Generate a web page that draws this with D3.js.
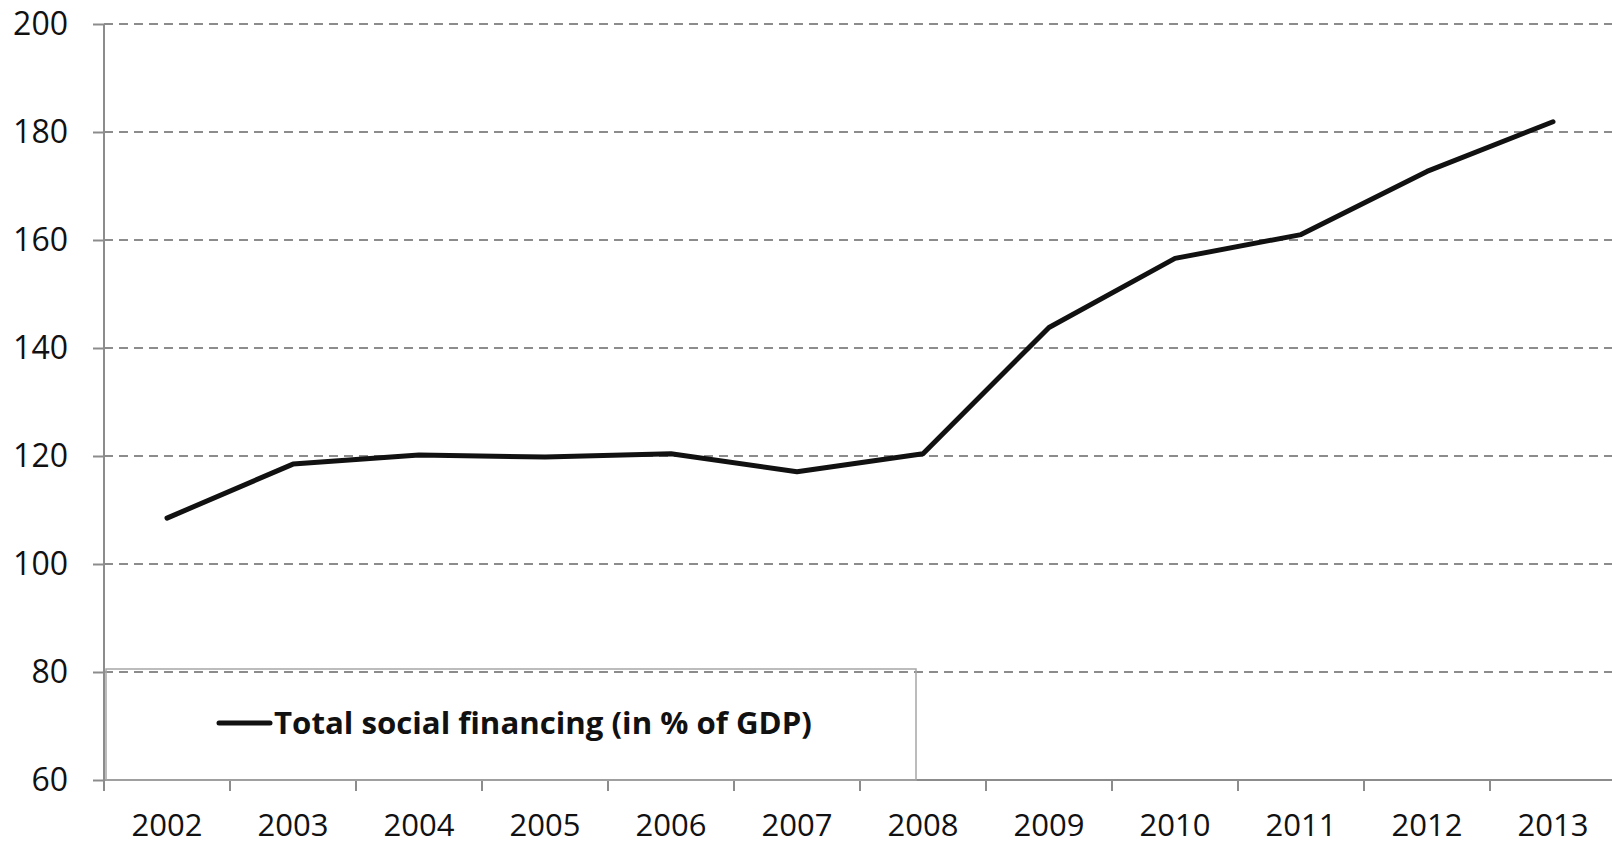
<!DOCTYPE html>
<html>
<head>
<meta charset="utf-8">
<script src="https://cdn.jsdelivr.net/npm/d3@7"></script>
<style>
  html, body { margin: 0; padding: 0; background: #fff; }
  svg { display: block; }
  text { font-family: "Open Sans", "Liberation Sans", sans-serif; fill: #111; }
</style>
</head>
<body>
<svg id="chart" width="1612" height="846"></svg>
<script>
// Total social financing, % of GDP
const years = ["2002", "2003", "2004", "2005", "2006", "2007", "2008", "2009", "2010", "2011", "2012", "2013"];
const financing = [108.5, 118.5, 120.2, 119.8, 120.4, 117.1, 120.4, 143.8, 156.6, 161.0, 172.7, 181.9];
const yTicks = [60, 80, 100, 120, 140, 160, 180, 200];
const legendLabel = "Total social financing (in % of GDP)";

const svg = d3.select("#chart");
const W = 1612;
const plot = { left: 104, right: 1616, top: 24, bottom: 780 };
const axisColor = "#8c8c8c";
const fontStack = '"Open Sans", "Liberation Sans", sans-serif';

const x = d3.scaleBand().domain(years).range([plot.left, plot.right]).padding(0);
const y = d3.scaleLinear().domain([60, 200]).range([plot.bottom, plot.top]);

// dashed horizontal gridlines
svg.append("g")
  .selectAll("line")
  .data(yTicks.filter(v => v > 60))
  .join("line")
  .attr("x1", plot.left)
  .attr("x2", W)
  .attr("y1", d => y(d))
  .attr("y2", d => y(d))
  .attr("stroke", axisColor)
  .attr("stroke-width", 2)
  .attr("stroke-dasharray", "9,6");

// y axis
const yAxis = svg.append("g")
  .attr("transform", `translate(${plot.left},0)`)
  .call(d3.axisLeft(y).tickValues(yTicks).tickSize(11).tickPadding(25).tickFormat(d3.format("d")));
yAxis.select(".domain").attr("stroke", axisColor).attr("stroke-width", 2)
  .attr("d", `M0,${plot.bottom}V${plot.top}`);
yAxis.selectAll(".tick line").attr("stroke", axisColor).attr("stroke-width", 2);
yAxis.selectAll(".tick text")
  .attr("font-size", 32)
  .attr("fill", "#111")
  .style("font-family", fontStack);

// x axis: labels centred in each band, ticks on band boundaries
const xAxis = svg.append("g")
  .attr("transform", `translate(0,${plot.bottom})`)
  .call(d3.axisBottom(x).tickSize(0).tickPadding(0));
xAxis.select(".domain").remove();
xAxis.selectAll(".tick text")
  .attr("y", 56)
  .attr("dy", null)
  .attr("font-size", 31)
  .attr("fill", "#111")
  .style("font-family", fontStack);

svg.append("line")
  .attr("x1", plot.left).attr("x2", W)
  .attr("y1", plot.bottom).attr("y2", plot.bottom)
  .attr("stroke", axisColor).attr("stroke-width", 2);

const boundaries = years.map(d => x(d));
svg.append("g")
  .selectAll("line")
  .data(boundaries)
  .join("line")
  .attr("x1", d => d).attr("x2", d => d)
  .attr("y1", plot.bottom).attr("y2", plot.bottom + 11)
  .attr("stroke", axisColor).attr("stroke-width", 2);

// series line
const line = d3.line()
  .x((d, i) => x(years[i]) + x.bandwidth() / 2)
  .y(d => y(d));

svg.append("path")
  .datum(financing)
  .attr("d", line)
  .attr("fill", "none")
  .attr("stroke", "#111")
  .attr("stroke-width", 5)
  .attr("stroke-linejoin", "round")
  .attr("stroke-linecap", "round");

// legend box
const lg = { x: 106, y: 669, w: 810, h: 111 };
svg.append("rect")
  .attr("x", lg.x).attr("y", lg.y)
  .attr("width", lg.w).attr("height", lg.h)
  .attr("fill", "none")
  .attr("stroke", "#a6a6a6")
  .attr("stroke-width", 1.5);

const ly = 723;
svg.append("line")
  .attr("x1", 219).attr("x2", 270)
  .attr("y1", ly).attr("y2", ly)
  .attr("stroke", "#111").attr("stroke-width", 5)
  .attr("stroke-linecap", "round");

const lt = svg.append("text")
  .attr("x", 274)
  .attr("y", ly)
  .attr("dy", "0.35em")
  .attr("font-size", 30)
  .attr("font-weight", "bold")
  .text(legendLabel);
// keep the legend label within its box width
const target = 538;
const len = lt.node().getComputedTextLength();
if (len > 0) lt.attr("font-size", 30 * target / len);
</script>
</body>
</html>
